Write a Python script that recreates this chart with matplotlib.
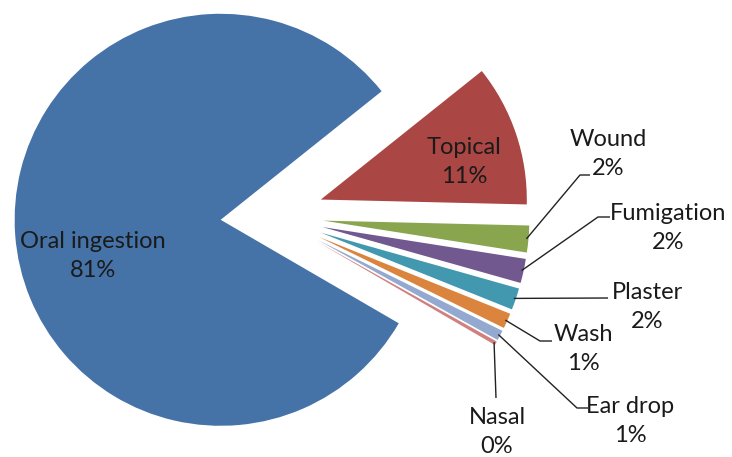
import matplotlib.pyplot as plt
import numpy as np

# Routes of administration, in clockwise order from the top of the gap
routes = ['Topical', 'Wound', 'Fumigation', 'Plaster', 'Wash', 'Ear drop', 'Nasal', 'Oral ingestion']
shares = [11.1, 2.1, 1.9, 1.7, 1.2, 0.8, 0.3, 80.9]
colors = ['#AA4643', '#89A54E', '#71588F', '#4198AF', '#DB843D', '#93A9CF', '#D0807E', '#4572A7']

W, H = 732, 457
cx, cy, R = 272, 216, 206


def px(x, y):
    # pixel position (from top-left) -> data coords of the pie axes
    return (x - cx) / R, (cy - y) / R


plt.rcParams['font.family'] = ['Lato', 'DejaVu Sans']
fig = plt.figure(figsize=(W / 100, H / 100), dpi=100)
ax = fig.add_axes([0, 0, 1, 1])

wedges, _ = ax.pie(shares, colors=colors, startangle=38.6, counterclock=False,
                   explode=[0.25] * len(shares), radius=1,
                   wedgeprops=dict(linewidth=0))
ax.set_aspect('auto')
ax.set_xlim(-cx / R, (W - cx) / R)
ax.set_ylim((cy - H) / R, cy / R)
ax.axis('off')

labels = [f"{r}\n{round(s):.0f}%" for r, s in zip(routes, shares)]
txt = dict(fontsize=17, color='#1a1a1a', ha='center', va='center',
           linespacing=1.5, multialignment='center')

# labels sitting inside their slice
inside = {'Topical': (464, 162), 'Oral ingestion': (93, 256)}
# outside labels: (text centre, elbow of leader, end of leader)
outside = {
    'Wound': ((608, 154), (580, 175), (590, 175)),
    'Fumigation': ((668, 228), (598, 217), (610, 217)),
    'Plaster': ((647, 307), (608, 298), (608, 298)),
    'Wash': ((583, 349), (540, 341), (552, 341)),
    'Ear drop': ((630, 421), (577, 408), (588, 408)),
    'Nasal': ((497, 432), (496, 398), (496, 398)),
}

for w, name, lab in zip(wedges, routes, labels):
    if name in inside:
        ax.text(*px(*inside[name]), lab, **txt)
        continue
    pos, elbow, end = outside[name]
    mid = np.deg2rad((w.theta1 + w.theta2) / 2)
    sx = w.center[0] + w.r * 0.99 * np.cos(mid)
    sy = w.center[1] + w.r * 0.99 * np.sin(mid)
    ex, ey = px(*elbow)
    fx, fy = px(*end)
    ax.plot([sx, ex, fx], [sy, ey, fy], color='#222222', lw=1.0, solid_capstyle='butt')
    ax.text(*px(*pos), lab, **txt)

fig.savefig('out.png', dpi=100, facecolor='white')
